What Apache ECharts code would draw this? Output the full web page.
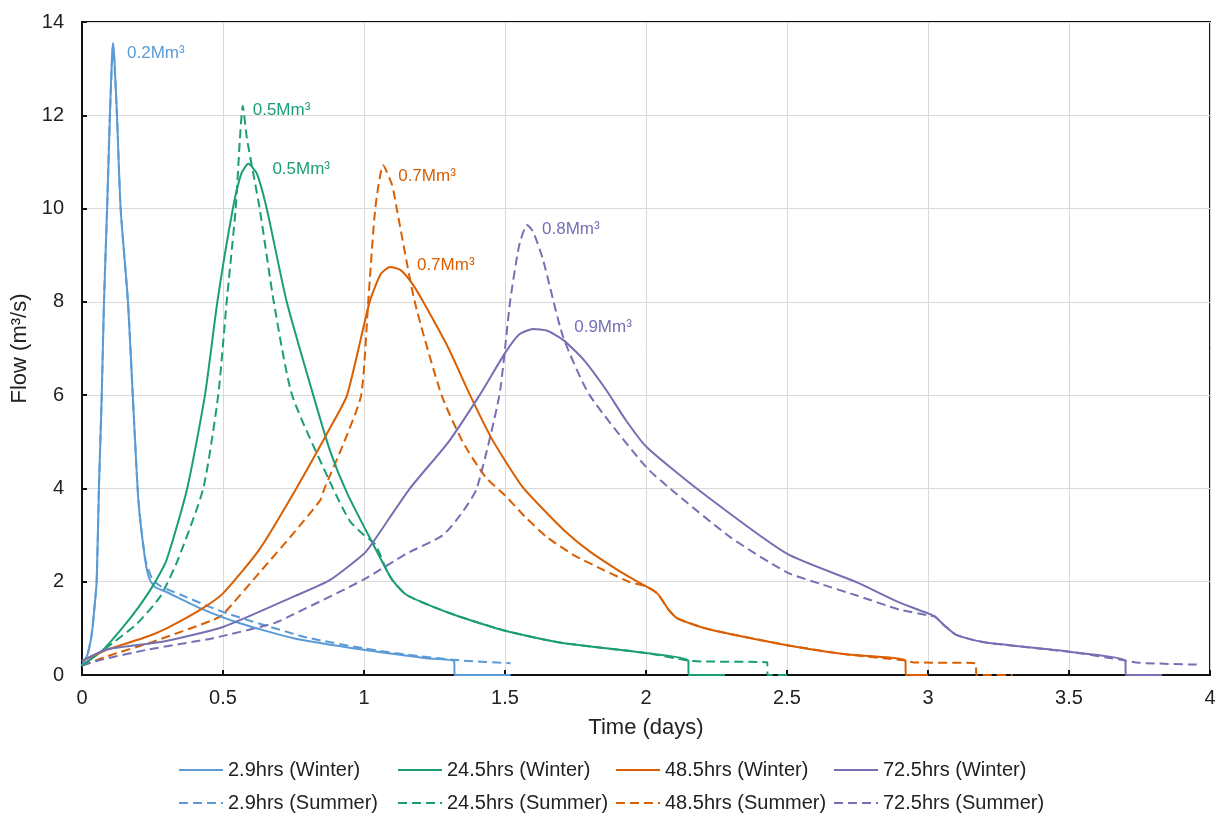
<!DOCTYPE html>
<html>
<head>
<meta charset="utf-8">
<script src="https://cdn.jsdelivr.net/npm/echarts@6/dist/echarts.min.js"></script>
<style>
  html, body { margin: 0; padding: 0; background: #fff; }
  #chart { width: 1219px; height: 814px; }
</style>
</head>
<body>
<div id="chart"></div>
<script>
// flow hydrographs, [time (days), flow (m3/s)]
const winter29 = [[0,0.2],[0.02,0.45],[0.035,0.9],[0.045,1.5],[0.052,2.0],[0.06,4.0],[0.07,6.0],[0.078,8.0],[0.089,10.0],[0.099,12.0],[0.106,13.2],[0.11,13.55],[0.115,13.2],[0.124,12.0],[0.137,10.0],[0.163,8.0],[0.18,6.0],[0.2,3.75],[0.224,2.47],[0.24,2.05],[0.26,1.88],[0.3,1.78],[0.42,1.43],[0.56,1.11],[0.75,0.79],[1.0,0.54],[1.22,0.36],[1.32,0.29],[1.321,0],[1.52,0]]
const winter245 = [[0,0.2],[0.075,0.54],[0.146,1.03],[0.2,1.45],[0.25,1.9],[0.3,2.47],[0.373,4.0],[0.436,6.0],[0.48,8.0],[0.535,10.0],[0.565,10.75],[0.59,10.96],[0.62,10.75],[0.655,10.0],[0.726,8.0],[0.82,6.0],[0.88,4.8],[0.94,3.9],[1.03,2.83],[1.08,2.25],[1.1,2.04],[1.15,1.72],[1.25,1.45],[1.34,1.25],[1.5,0.95],[1.7,0.69],[2.0,0.47],[2.15,0.31],[2.151,0],[2.28,0]]
const winter485 = [[0,0.3],[0.088,0.54],[0.23,0.82],[0.3,1.0],[0.42,1.4],[0.5,1.75],[0.63,2.7],[0.76,4.0],[0.88,5.3],[0.94,6.0],[1.02,8.0],[1.06,8.6],[1.092,8.75],[1.13,8.68],[1.17,8.4],[1.21,8.0],[1.3,7.0],[1.376,6.0],[1.45,5.1],[1.5,4.6],[1.56,4.05],[1.62,3.65],[1.71,3.1],[1.8,2.65],[1.9,2.25],[1.97,2.0],[2.04,1.75],[2.08,1.4],[2.11,1.22],[2.2,1.02],[2.29,0.89],[2.5,0.64],[2.7,0.45],[2.92,0.31],[2.921,0],[3.0,0]]
const winter725 = [[0,0.3],[0.09,0.55],[0.29,0.72],[0.5,1.03],[0.75,1.68],[0.88,2.04],[1.0,2.6],[1.03,2.83],[1.163,4.0],[1.3,5.0],[1.41,6.0],[1.5,6.9],[1.55,7.3],[1.6,7.42],[1.65,7.38],[1.707,7.18],[1.78,6.75],[1.86,6.1],[1.93,5.45],[2.0,4.9],[2.19,3.95],[2.5,2.6],[2.75,1.98],[2.9,1.55],[3.0,1.32],[3.025,1.25],[3.06,1.05],[3.1,0.86],[3.2,0.7],[3.5,0.5],[3.7,0.31],[3.701,0],[3.83,0]]
const summer29 = [[0,0.2],[0.02,0.45],[0.035,0.9],[0.045,1.5],[0.052,2.0],[0.06,4.0],[0.07,6.0],[0.078,8.0],[0.089,10.0],[0.099,12.0],[0.11,13.5],[0.124,12.0],[0.137,10.0],[0.163,8.0],[0.18,6.0],[0.2,3.75],[0.224,2.5],[0.25,2.05],[0.28,1.9],[0.35,1.72],[0.5,1.35],[0.63,1.1],[0.8,0.8],[1.0,0.57],[1.2,0.4],[1.35,0.31],[1.52,0.25]]
const summer245 = [[0,0.2],[0.11,0.69],[0.195,1.1],[0.277,1.68],[0.34,2.47],[0.43,4.0],[0.483,6.0],[0.513,8.0],[0.545,10.0],[0.56,11.5],[0.57,12.2],[0.585,11.5],[0.63,10.0],[0.68,8.0],[0.745,6.0],[0.89,4.0],[0.95,3.3],[1.0,3.0],[1.04,2.8],[1.08,2.25],[1.1,2.04],[1.15,1.72],[1.25,1.45],[1.34,1.25],[1.5,0.95],[1.7,0.69],[2.0,0.47],[2.15,0.31],[2.2,0.29],[2.43,0.27],[2.431,0],[2.5,0]]
const summer485 = [[0,0.2],[0.088,0.4],[0.25,0.71],[0.465,1.18],[0.5,1.3],[0.63,2.2],[0.75,3.04],[0.845,3.75],[0.86,4.0],[0.93,5.0],[0.99,6.0],[1.015,8.0],[1.04,10.0],[1.068,10.93],[1.1,10.5],[1.116,10.0],[1.18,8.0],[1.275,6.0],[1.35,5.0],[1.43,4.25],[1.5,3.85],[1.57,3.4],[1.65,2.95],[1.75,2.55],[1.85,2.25],[1.94,2.0],[2.0,1.9],[2.04,1.75],[2.08,1.4],[2.11,1.22],[2.2,1.02],[2.29,0.89],[2.5,0.64],[2.7,0.45],[2.92,0.31],[2.95,0.27],[3.17,0.25],[3.171,0],[3.3,0]]
const summer725 = [[0,0.2],[0.064,0.32],[0.23,0.54],[0.465,0.79],[0.68,1.11],[0.75,1.3],[1.0,2.05],[1.15,2.6],[1.28,3.0],[1.35,3.5],[1.4,4.0],[1.48,6.0],[1.518,8.0],[1.55,9.2],[1.578,9.65],[1.6,9.5],[1.635,8.9],[1.706,7.25],[1.8,6.0],[2.0,4.46],[2.085,4.0],[2.3,2.95],[2.5,2.2],[2.62,1.95],[2.75,1.7],[2.9,1.4],[3.0,1.28],[3.025,1.25],[3.06,1.05],[3.1,0.86],[3.2,0.7],[3.5,0.5],[3.7,0.31],[3.75,0.26],[3.97,0.22]]

const seriesNames = ['2.9hrs (Winter)', '24.5hrs (Winter)', '48.5hrs (Winter)', '72.5hrs (Winter)',
  '2.9hrs (Summer)', '24.5hrs (Summer)', '48.5hrs (Summer)', '72.5hrs (Summer)']
const seriesData = [winter29, winter245, winter485, winter725, summer29, summer245, summer485, summer725]
const peakLabels = ['0.2Mm³', '0.5Mm³', '0.7Mm³', '0.9Mm³', '', '0.5Mm³', '0.7Mm³', '0.8Mm³']

const colors = ['#5b9bd5', '#1b9e77', '#d95f02', '#7570b3']
const labelOffsets = [[14, 10], [24, 6], [27, -2], [41, -2], [0, 0], [10, 4], [15, 11], [15, 4]]
const legendLeft = [178, 397, 615, 833]
const font = 'Liberation Sans, Arial, sans-serif'

const chart = echarts.init(document.getElementById('chart'))

const series = seriesData.map((data, i) => {
  const color = colors[i % 4]
  const s = {
    name: seriesNames[i],
    type: 'line',
    data: data,
    symbol: 'none',
    smooth: 0.2,
    color: color,
    lineStyle: {
      color: color,
      width: 2,
      type: i < 4 ? 'solid' : [9, 5]
    },
    z: i < 4 ? 3 : 2
  }
  if (peakLabels[i]) {
    s.markPoint = {
      symbol: 'circle',
      symbolSize: 0,
      silent: true,
      data: [{ type: 'max', valueDim: 'y' }],
      label: {
        show: true,
        position: 'right',
        distance: 0,
        offset: labelOffsets[i],
        formatter: peakLabels[i],
        color: color,
        fontSize: 17,
        fontFamily: font
      }
    }
  }
  return s
})

const legends = seriesNames.map((name, i) => ({
  data: [name],
  left: legendLeft[i % 4],
  top: i < 4 ? 760 : 793,
  padding: 0,
  itemWidth: 44,
  itemHeight: 14,
  itemStyle: { opacity: 0 },
  textStyle: { color: '#222', fontSize: 20, fontFamily: font }
}))

const option = {
  animation: false,
  backgroundColor: '#fff',
  legend: legends,
  grid: {
    left: 82,
    right: 9,
    top: 22,
    bottom: 139,
    show: true,
    borderColor: '#111',
    borderWidth: 2
  },
  xAxis: {
    type: 'value',
    min: 0,
    max: 4,
    interval: 0.5,
    name: 'Time (days)',
    nameLocation: 'middle',
    nameGap: 42,
    nameTextStyle: { color: '#222', fontSize: 22, fontFamily: font },
    axisLine: { show: true, lineStyle: { color: '#111', width: 2 } },
    axisTick: { show: true, inside: true, length: 5, lineStyle: { color: '#111', width: 2 } },
    axisLabel: { color: '#222', fontSize: 20, fontFamily: font, margin: 13 },
    splitLine: { show: true, lineStyle: { color: '#d9d9d9', width: 1 } }
  },
  yAxis: {
    type: 'value',
    min: 0,
    max: 14,
    interval: 2,
    name: 'Flow (m³/s)',
    nameLocation: 'middle',
    nameGap: 42,
    nameTextStyle: { color: '#222', fontSize: 22, fontFamily: font },
    axisLine: { show: true, lineStyle: { color: '#111', width: 2 } },
    axisTick: { show: true, inside: true, length: 5, lineStyle: { color: '#111', width: 2 } },
    axisLabel: { color: '#222', fontSize: 20, fontFamily: font, margin: 18 },
    splitLine: { show: true, lineStyle: { color: '#d9d9d9', width: 1 } }
  },
  series: series
}

chart.setOption(option)
</script>
</body>
</html>
